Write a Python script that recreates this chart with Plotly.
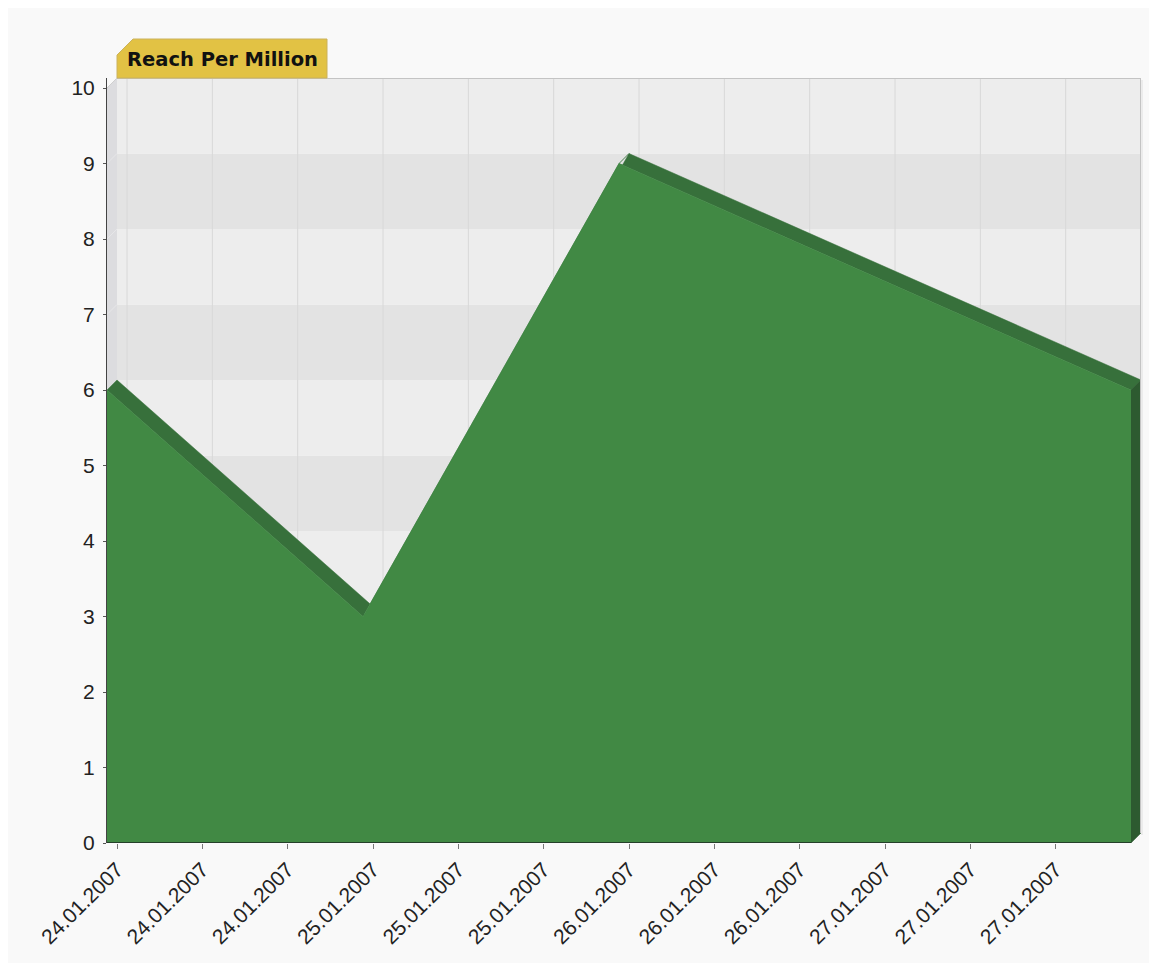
import plotly.graph_objects as go

# ---- data ----
tick_labels = ["24.01.2007", "24.01.2007", "24.01.2007",
               "25.01.2007", "25.01.2007", "25.01.2007",
               "26.01.2007", "26.01.2007", "26.01.2007",
               "27.01.2007", "27.01.2007", "27.01.2007"]
point_x = [0, 3, 6, 12]
reach_per_million = [6, 3, 9, 6]
y_ticks = list(range(0, 11))
title_text = "Reach Per Million"

# ---- geometry (pixels, figure coordinates; page adds 8px body margin) ----
W, H = 1157, 963
OFF = 8
L, R, T, B = 107 - OFF, 1141 - OFF, 78 - OFF, 843 - OFF
n_cat = 12
front_w = 1024.0
front_h = 755.0
depth = 10.0
ux = front_w / n_cat
uy = front_h / 10.0
xmax = (R - L) / ux
ymax = (B - T) / uy
dx = depth / ux
dy = depth / uy


def px(x):
    return (x - L) / (R - L)


def py(y):
    return (B - y) / (B - T)


GREEN = "#418944"
RIDGE = "#37703b"
SIDE = "#2d5a30"

fig = go.Figure()

# ridge quads (top surface of the 3D area)
rx, ry = [], []
for i in range(len(point_x) - 1):
    x0, y0 = point_x[i], reach_per_million[i]
    x1, y1 = point_x[i + 1], reach_per_million[i + 1]
    rx += [x0, x1, x1 + dx, x0 + dx, x0, None]
    ry += [y0, y1, y1 + dy, y0 + dy, y0, None]
fig.add_trace(go.Scatter(x=rx, y=ry, mode="lines", fill="toself",
                         fillcolor=RIDGE, line=dict(width=0.5, color=RIDGE),
                         hoverinfo="skip", showlegend=False))

# right side of the 3D area
xl, yl = point_x[-1], reach_per_million[-1]
fig.add_trace(go.Scatter(x=[xl, xl + dx, xl + dx, xl, xl],
                         y=[yl, yl + dy, dy, 0, yl],
                         mode="lines", fill="toself", fillcolor=SIDE,
                         line=dict(width=0.5, color=SIDE),
                         hoverinfo="skip", showlegend=False))

# front face
fig.add_trace(go.Scatter(x=point_x, y=reach_per_million, mode="lines",
                         fill="tozeroy", fillcolor=GREEN,
                         line=dict(width=0.5, color=GREEN),
                         name="Reach Per Million", showlegend=False))

shapes = []
# back wall bands
for k in range(10):
    shapes.append(dict(type="rect", xref="x", yref="y",
                       x0=dx, x1=n_cat + dx, y0=k + dy, y1=k + 1 + dy,
                       fillcolor="#e3e3e3" if k % 2 == 0 else "#ededed",
                       line=dict(width=0), layer="below"))
# vertical grid lines on back wall
for k in range(n_cat):
    shapes.append(dict(type="line", xref="x", yref="y",
                       x0=k + 2 * dx, x1=k + 2 * dx, y0=dy, y1=10 + dy,
                       line=dict(color="#d8d8d8", width=1), layer="below"))
# left side wall
shapes.append(dict(type="path", xref="x", yref="y",
                   path=f"M 0 0 L {dx} {dy} L {dx} {10 + dy} L 0 10 Z",
                   fillcolor="#dcdcdf", line=dict(width=0), layer="below"))
for k in range(11):
    shapes.append(dict(type="line", xref="x", yref="y",
                       x0=0, x1=dx, y0=k, y1=k + dy,
                       line=dict(color="#e6e6e8", width=1), layer="below"))
# back wall border
shapes.append(dict(type="line", xref="paper", yref="paper",
                   x0=px(L + depth), x1=px(R), y0=py(T + 0.5), y1=py(T + 0.5),
                   line=dict(color="#c4c4c4", width=1)))
shapes.append(dict(type="line", xref="paper", yref="paper",
                   x0=px(R - 0.5), x1=px(R - 0.5), y0=py(T), y1=py(B - depth),
                   line=dict(color="#c4c4c4", width=1)))
shapes.append(dict(type="line", xref="paper", yref="paper",
                   x0=px(R + 1), x1=px(R + 1), y0=py(T + 2), y1=py(B - depth + 2),
                   line=dict(color="#ececec", width=2)))
shapes.append(dict(type="line", xref="paper", yref="paper",
                   x0=px(L), x1=px(L + depth), y0=py(T + depth), y1=py(T),
                   line=dict(color="#cfcfcf", width=1)))
# front bottom edge (x axis line, ends at the front face)
shapes.append(dict(type="line", xref="x", yref="paper",
                   x0=0, x1=point_x[-1], y0=py(B - 0.5), y1=py(B - 0.5),
                   line=dict(color="#25402a", width=1)))
# title tab
tx0, tx1, ty0, ty1, cut = L + depth, 327 - OFF, 39 - OFF, T, 16
shapes.append(dict(type="path", xref="paper", yref="paper",
                   path=(f"M {px(tx0)} {py(ty1)} L {px(tx0)} {py(ty0 + cut)} "
                         f"L {px(tx0 + cut)} {py(ty0)} L {px(tx1)} {py(ty0)} "
                         f"L {px(tx1)} {py(ty1)} Z"),
                   fillcolor="#e2c244", line=dict(color="#cbb25c", width=1)))

annotations = [dict(text=f"<b>{title_text}</b>", xref="paper", yref="paper",
                    x=px(125 - OFF), y=py(59 - OFF), xanchor="left", yanchor="middle",
                    showarrow=False,
                    font=dict(family="DejaVu Sans", size=19.5, color="#111"))]

fig.update_layout(
    width=W, height=H, autosize=False,
    margin=dict(l=L, r=W - R, t=T, b=H - B, pad=0),
    paper_bgcolor="#f9f9f9", plot_bgcolor="rgba(0,0,0,0)",
    shapes=shapes, annotations=annotations, showlegend=False,
    font=dict(family="Liberation Sans, Arial, sans-serif", color="#222", size=21),
)
fig.update_xaxes(range=[0, xmax], tickmode="array",
                 tickvals=[k + dx for k in range(n_cat)], ticktext=tick_labels,
                 tickangle=-45, ticks="outside", ticklen=5, tickcolor="#777",
                 showline=False,
                 showgrid=False, zeroline=False, fixedrange=True,
                 tickfont=dict(size=21, color="#222"))
fig.update_yaxes(range=[0, ymax], tickmode="array", tickvals=y_ticks,
                 ticks="outside", ticklen=3, tickcolor="#555",
                 showline=True, linecolor="#444", linewidth=1,
                 showgrid=False, zeroline=False, fixedrange=True,
                 ticklabelstandoff=4,
                 tickfont=dict(size=21, color="#222"))

fig.write_html("out.html")
